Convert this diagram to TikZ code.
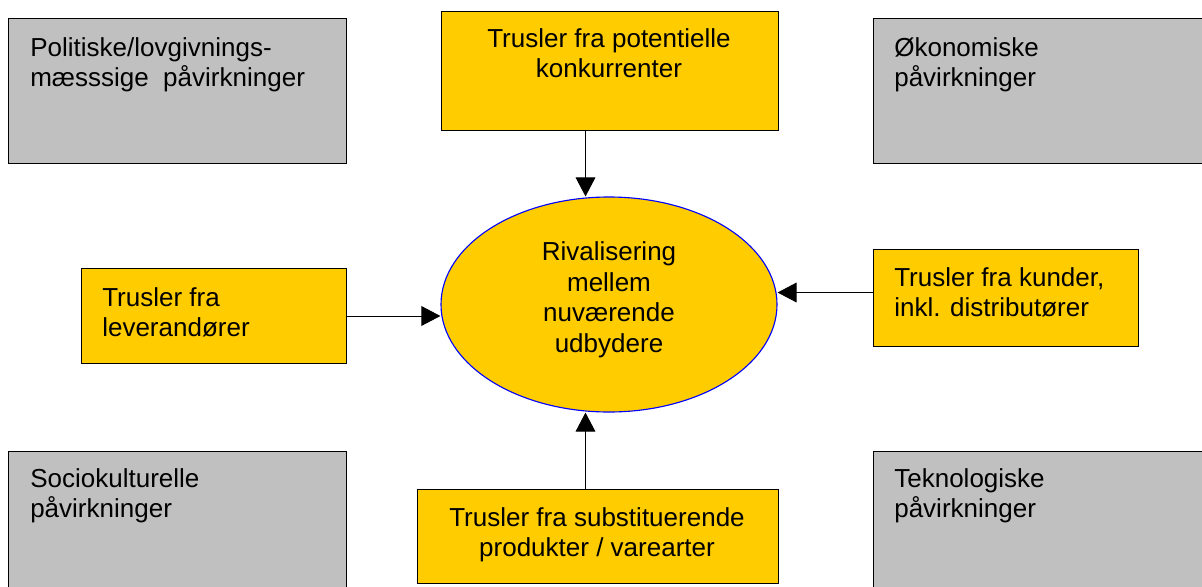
\documentclass[tikz,border=0pt]{standalone}
\usepackage{fontspec}
\setmainfont{Liberation Sans}
\usepackage{xcolor}
\usetikzlibrary{arrows.meta,shapes.geometric}
\definecolor{forceyellow}{HTML}{FFCC00}
\definecolor{forcegray}{HTML}{C0C0C0}
\newcommand{\pxl}{0.025cm}

\begin{document}
\begin{tikzpicture}[x=0.025cm, y=-0.025cm,
    graybox/.style={rectangle, draw=black, line width=0.7pt, fill=forcegray, anchor=north west, inner sep=0pt},
    yellowbox/.style={rectangle, draw=black, line width=0.7pt, fill=forceyellow, anchor=north west, inner sep=0pt},
    boxtext/.style={inner sep=0pt, font=\fontsize{18.5pt}{21.7pt}\selectfont},
    arr/.style={-{Triangle[length=13.5pt, width=14pt]}, line width=0.7pt, black}]
        % page
        \useasboundingbox (0,0) rectangle (1202,586);

        % influences
        \node[graybox, minimum width=338*\pxl, minimum height=145*\pxl] (pol) at (8,18) {};
        \node[graybox, minimum width=338*\pxl, minimum height=145*\pxl] (oko) at (873,18) {};
        \node[graybox, minimum width=338*\pxl, minimum height=150*\pxl] (soc) at (8,451) {};
        \node[graybox, minimum width=338*\pxl, minimum height=150*\pxl] (tek) at (873,451) {};

        % forces
        \node[yellowbox, minimum width=337*\pxl, minimum height=119*\pxl] (pot) at (441,11) {};
        \node[yellowbox, minimum width=265*\pxl, minimum height=95*\pxl] (lev) at (81,268) {};
        \node[yellowbox, minimum width=265*\pxl, minimum height=97*\pxl] (kun) at (873,249) {};
        \node[yellowbox, minimum width=361*\pxl, minimum height=94*\pxl] (sub) at (417,489) {};
        \node[ellipse, draw=blue, line width=0.8pt, fill=forceyellow, minimum width=336*\pxl, minimum height=215*\pxl, inner sep=0pt] (riv) at (609,304.5) {};

        % arrows
        \draw[arr] ([xshift=-17.4pt]pot.south) coordinate (p) -- (riv.north -| p);
        \draw[arr] (lev.east) -- (riv.west |- lev.east);
        \draw[arr] ([yshift=3.9pt]kun.west) coordinate (k) -- (riv.east |- k);
        \draw[arr] ([xshift=-8.9pt]sub.north) coordinate (s) -- (riv.south -| s);

        % Text
        \node[boxtext, anchor=north west, align=left] (poltext) at (30,37) {Politiske/lovgivnings-\\mæsssige~ påvirkninger};
        \node[boxtext, anchor=north west, align=left] (okotext) at (894,37) {Økonomiske\\påvirkninger};
        \node[boxtext, anchor=north west, align=left] (soctext) at (30,468) {Sociokulturelle\\påvirkninger};
        \node[boxtext, anchor=north west, align=left] (tektext) at (894,468) {Teknologiske\\påvirkninger};

        \node[boxtext, anchor=north, align=center] (pottext) at (609,28) {Trusler fra potentielle\\konkurrenter};
        \node[boxtext, anchor=north west, align=left] (levtext) at (102,287) {Trusler fra\\leverandører};
        \node[boxtext, anchor=north west, align=left] (kuntext) at (894,267) {Trusler fra kunder,\\inkl. distributører};
        \node[boxtext, anchor=north, align=center] (subtext) at (597,507) {Trusler fra substituerende\\produkter / varearter};
        \node[boxtext, align=center] (rivtext) at (609,300) {Rivalisering\\mellem\\nuværende\\udbydere};
\end{tikzpicture}
\end{document}
